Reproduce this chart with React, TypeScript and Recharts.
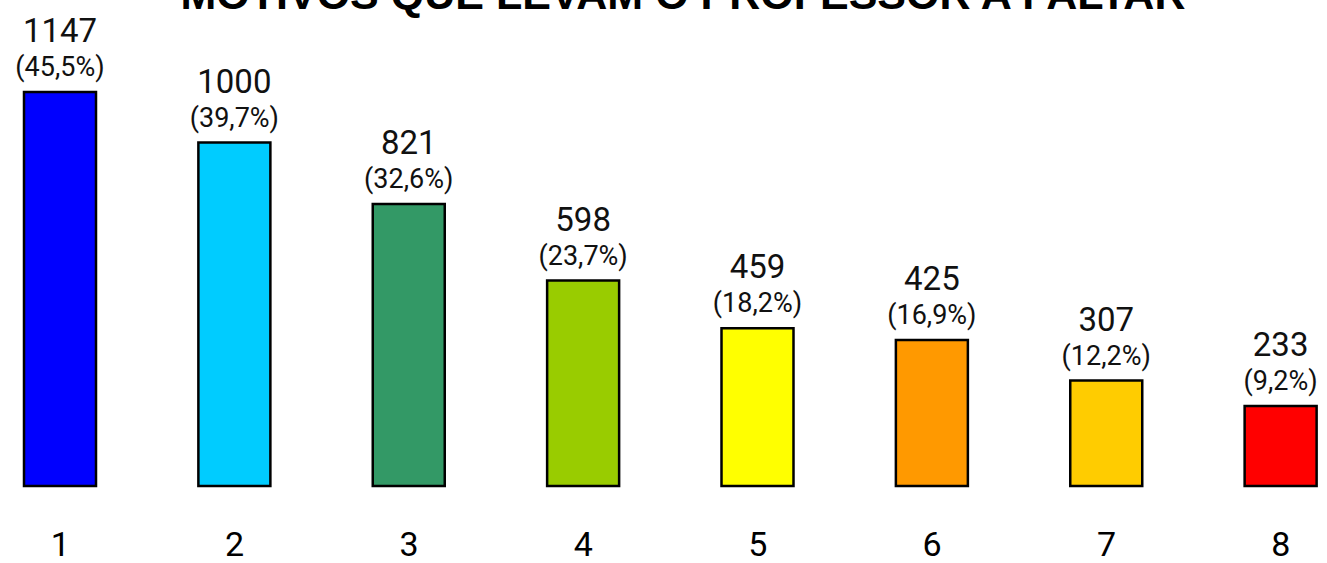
import React from "react";
import { BarChart, Bar, XAxis, YAxis, Cell, LabelList } from "recharts";

const categories = ["1", "2", "3", "4", "5", "6", "7", "8"];
const counts = [1147, 1000, 821, 598, 459, 425, 307, 233];
const percents = ["45,5%", "39,7%", "32,6%", "23,7%", "18,2%", "16,9%", "12,2%", "9,2%"];
const colors = ["#0000FF", "#00CCFF", "#339966", "#99CC00", "#FFFF00", "#FF9900", "#FFCC00", "#FF0000"];
const title = "MOTIVOS QUE LEVAM O PROFESSOR A FALTAR";

const data = categories.map((c, i) => ({ cat: c, value: counts[i], pct: percents[i] }));

const FONT = "Roboto, 'Noto Sans', sans-serif";

const Tick = (props: any) => {
  const { x, y, payload } = props;
  return (
    <text x={x} y={y + 62} textAnchor="middle" fontSize={34} fontFamily={FONT} fill="#000">
      {payload.value}
    </text>
  );
};

const TopLabel = (props: any) => {
  const { x, y, width, index } = props;
  const cx = x + width / 2;
  return (
    <g>
      <text x={cx} y={y - 50} textAnchor="middle" fontSize={33} fontFamily={FONT} fill="#111">
        {counts[index]}
      </text>
      <text x={cx} y={y - 16} textAnchor="middle" fontSize={27} fontFamily={FONT} fill="#111">
        ({percents[index]})
      </text>
    </g>
  );
};

export default function App() {
  return (
    <div style={{ position: "absolute", left: 0, top: 0, width: 1327, height: 563, overflow: "hidden", background: "#fff" }}>
      <div style={{ position: "absolute", left: -27, top: 0 }}>
        <BarChart
          width={1395}
          height={563}
          data={data}
          margin={{ top: 73.8, right: 0, bottom: 0, left: 0 }}
          barSize={72}
        >
          <YAxis hide domain={[0, 1200]} />
          <XAxis dataKey="cat" axisLine={false} tickLine={false} tick={<Tick />} height={77} interval={0} />
          <Bar dataKey="value" stroke="#000" strokeWidth={2.5} isAnimationActive={false}>
            {data.map((d, i) => (
              <Cell key={d.cat} fill={colors[i]} />
            ))}
            <LabelList dataKey="value" content={<TopLabel />} />
          </Bar>
        </BarChart>
      </div>
      <svg width={1327} height={563} style={{ position: "absolute", left: 0, top: 0, pointerEvents: "none" }}>
        <text x={683} y={9} textAnchor="middle" fontSize={43} fontWeight="bold" fontFamily="'Liberation Sans', Arial, sans-serif" fill="#000">
          {title}
        </text>
      </svg>
    </div>
  );
}
